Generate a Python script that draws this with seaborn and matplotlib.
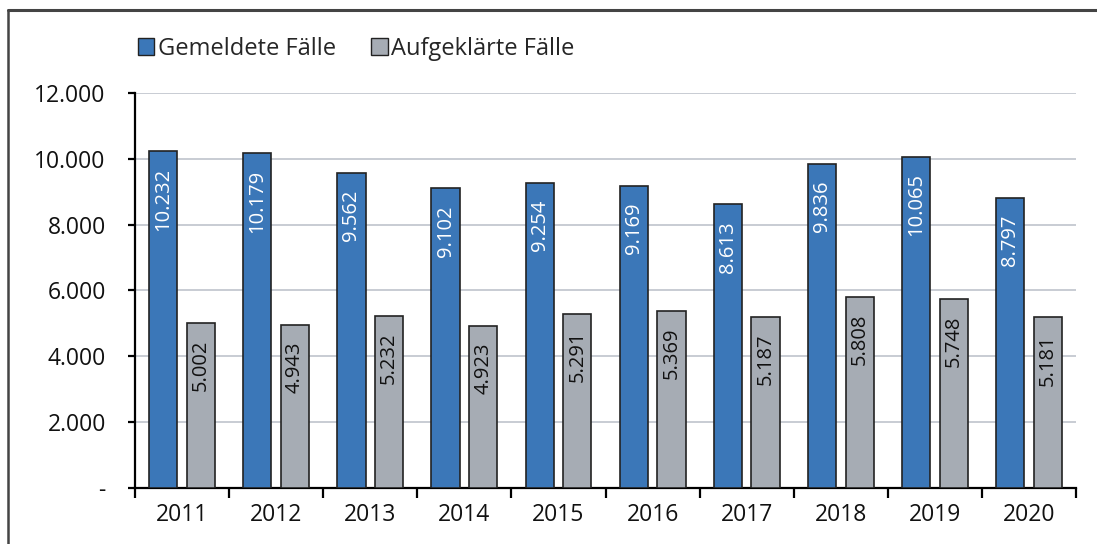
import matplotlib.pyplot as plt
import seaborn as sns
import pandas as pd
from matplotlib.ticker import FixedLocator, FuncFormatter
from matplotlib.patches import Patch
from matplotlib.lines import Line2D

jahre = ['2011', '2012', '2013', '2014', '2015', '2016', '2017', '2018', '2019', '2020']
gemeldet = [10232, 10179, 9562, 9102, 9254, 9169, 8613, 9836, 10065, 8797]
aufgeklaert = [5002, 4943, 5232, 4923, 5291, 5369, 5187, 5808, 5748, 5181]
serien = ['Gemeldete Fälle', 'Aufgeklärte Fälle']

blau = '#3B77B8'
grau = '#A6ACB4'

df = pd.DataFrame({
    'Jahr': jahre * 2,
    'Fälle': gemeldet + aufgeklaert,
    'Serie': [serien[0]] * len(jahre) + [serien[1]] * len(jahre),
})

sns.set_style('white')
plt.rcParams['font.family'] = ['Open Sans', 'DejaVu Sans']

fig = plt.figure(figsize=(10.97, 5.44), dpi=100)
ax = fig.add_axes([0.123, 0.103, 0.858, 0.726])

sns.barplot(data=df, x='Jahr', y='Fälle', hue='Serie', palette=[blau, grau],
            saturation=1, width=0.8, gap=0.25, edgecolor='#222222', linewidth=1.2,
            ax=ax, legend=False, zorder=3)

# labels inside the bars, top aligned
for cont, farbe in zip(ax.containers, ['white', '#111111']):
    for bar in cont:
        h = bar.get_height()
        ax.annotate(f'{int(h):,}'.replace(',', '.'),
                    (bar.get_x() + bar.get_width() / 2, h),
                    xytext=(0, -12), textcoords='offset points',
                    rotation=90, ha='center', va='top',
                    fontsize=14.5, color=farbe, zorder=4)

ax.set_ylim(0, 12000)
ax.set_xlim(-0.5, len(jahre) - 0.5)
ax.yaxis.set_major_locator(FixedLocator(range(0, 12001, 2000)))
ax.yaxis.set_major_formatter(FuncFormatter(
    lambda v, p: '-' if v == 0 else f'{int(v):,}'.replace(',', '.')))
ax.grid(axis='y', color='#B9BFC7', linewidth=1.1, zorder=0)
ax.set_axisbelow(True)

ax.xaxis.set_minor_locator(FixedLocator([i - 0.5 for i in range(len(jahre) + 1)]))
ax.tick_params(axis='x', which='major', length=0, labelsize=16.5, pad=11, colors='#111111')
ax.tick_params(axis='x', which='minor', length=7, width=1.6, direction='out', color='black', bottom=True)
ax.tick_params(axis='y', length=5, width=1.6, direction='out', color='black', left=True,
               labelsize=16.5, pad=16, labelcolor='#111111')
ax.set_xlabel('')
ax.set_ylabel('')

for s in ['top', 'right']:
    ax.spines[s].set_visible(False)
for s in ['left', 'bottom']:
    ax.spines[s].set_color('black')
    ax.spines[s].set_linewidth(1.6)

handles = [Patch(facecolor=blau, edgecolor='#222222', linewidth=1.0),
           Patch(facecolor=grau, edgecolor='#222222', linewidth=1.0)]
fig.legend(handles, serien, loc='center left', bbox_to_anchor=(0.117, 0.91),
           ncol=2, frameon=False, fontsize=17, handlelength=0.7, handleheight=0.7,
           handletextpad=0.15, columnspacing=1.5, borderaxespad=0)

# outer frame (left and top)
fig.add_artist(Line2D([0.0075, 0.0075], [0, 0.9825], transform=fig.transFigure,
                      color='#444444', linewidth=1.8))
fig.add_artist(Line2D([0.0075, 1.0], [0.9825, 0.9825], transform=fig.transFigure,
                      color='#444444', linewidth=2.2))

fig.savefig('out.png', dpi=100)
